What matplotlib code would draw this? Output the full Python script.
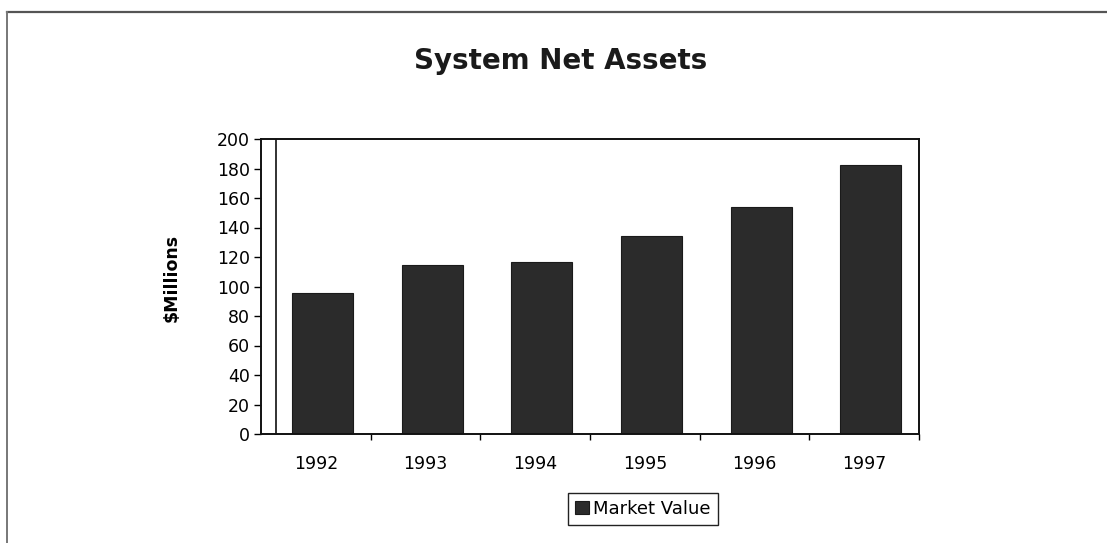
import matplotlib
matplotlib.use("Agg")
import matplotlib.pyplot as plt
from matplotlib.lines import Line2D

years = ["1992", "1993", "1994", "1995", "1996", "1997"]
market_value = [95.6, 114.6, 116.8, 134.2, 153.9, 182.4]
y_ticks = list(range(0, 201, 20))

bar_color = "#2b2b2b"
plt.rcParams["font.family"] = "DejaVu Sans"

fig = plt.figure(figsize=(11.07, 5.43), dpi=100)
ax = fig.add_axes([261 / 1107, 1 - 434 / 543, (919 - 261) / 1107, (434 - 139) / 543])

# bars sit a little right of the category centres in the original
x = [i + 0.06 for i in range(len(years))]
ax.bar(x, market_value, width=0.555, color=bar_color, edgecolor="#1a1a1a",
       linewidth=0.8, label="Market Value")

ax.set_xlim(-0.5, 5.5)
ax.set_ylim(0, 200)
ax.set_yticks(y_ticks)
ax.tick_params(axis="y", direction="out", length=5, width=1.0, labelsize=12.5, pad=3)

# category boundary ticks, labels in the middle
ax.set_xticks([i + 0.5 for i in range(len(years) - 1)] + [5.5])
ax.set_xticklabels([])
ax.tick_params(axis="x", which="major", direction="out", length=4, width=1.0)
ax.set_xticks(range(len(years)), minor=True)
ax.set_xticklabels(years, minor=True)
ax.tick_params(axis="x", which="minor", length=0, labelsize=12.5, pad=15)

for s in ax.spines.values():
    s.set_linewidth(1.4)
    s.set_color("#111111")

# stray inner vertical line next to the y axis
ax.axvline(-0.36, color="#222222", linewidth=1.3)

ax.set_ylabel("$Millions", fontsize=12.5, fontweight="bold")
ax.yaxis.set_label_coords(-0.122, 0.53)

fig.text(561 / 1107, 1 - 61 / 543, "System Net Assets", ha="center", va="center",
         fontsize=20, fontweight="bold", color="#1a1a1a")

leg = ax.legend(loc="center", bbox_to_anchor=(643 / 1107, 1 - 509 / 543),
                bbox_transform=fig.transFigure, fontsize=13, frameon=True,
                fancybox=False, edgecolor="#222222", framealpha=1,
                handlelength=0.75, handleheight=0.75, handletextpad=0.25,
                borderpad=0.4, borderaxespad=0)
leg.get_frame().set_linewidth(1.0)

# outer frame (top and left edges only visible)
fig.add_artist(Line2D([7 / 1107, 1.0], [1 - 12 / 543, 1 - 12 / 543],
                      transform=fig.transFigure, color="#555555", linewidth=1.6))
fig.add_artist(Line2D([7 / 1107, 7 / 1107], [0.0, 1 - 12 / 543],
                      transform=fig.transFigure, color="#777777", linewidth=1.4))

fig.savefig("out.png", dpi=100)
